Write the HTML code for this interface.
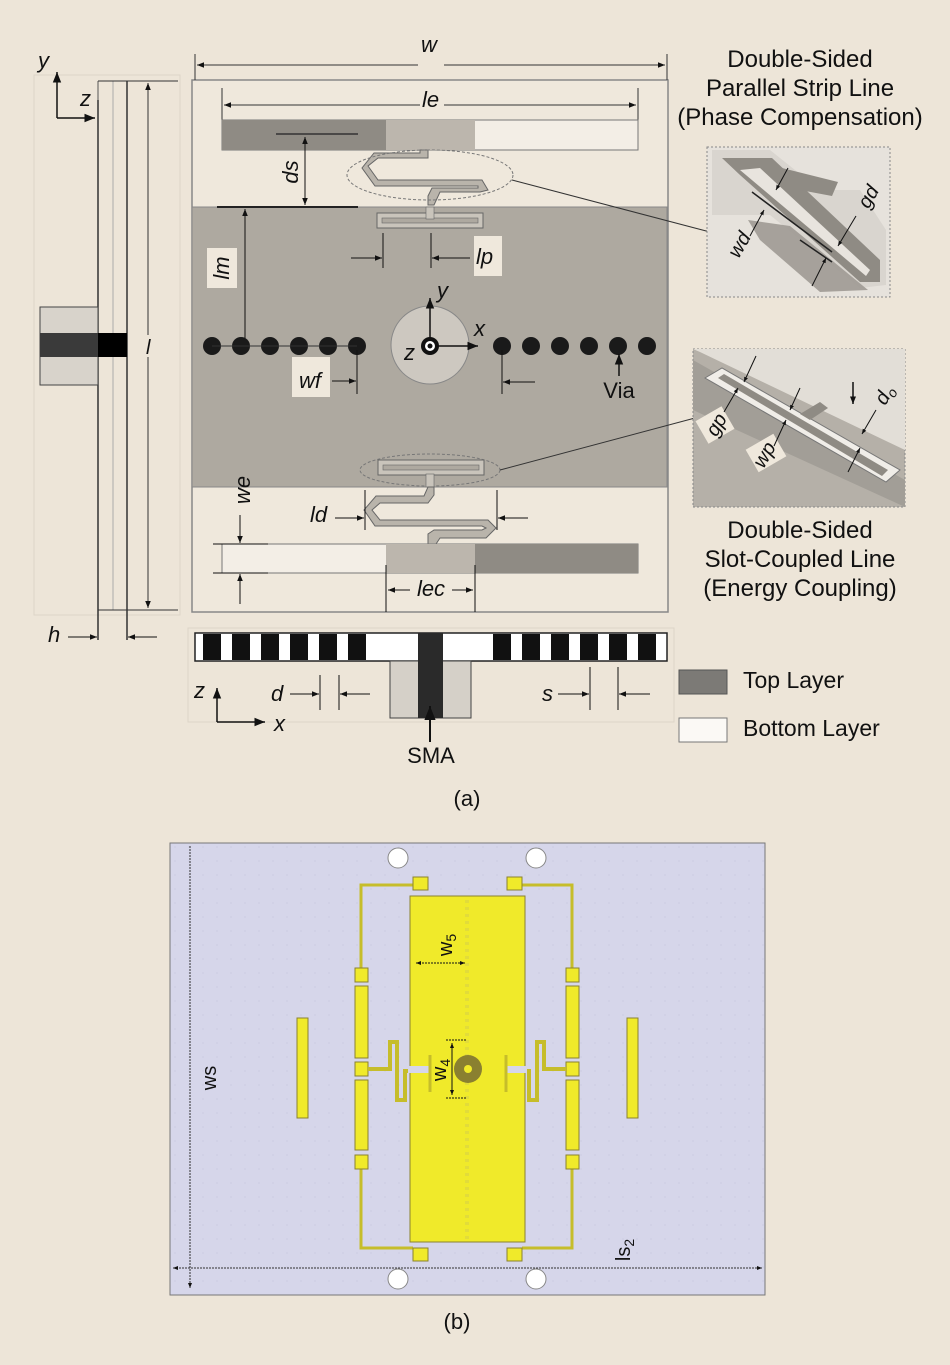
<!DOCTYPE html>
<html><head><meta charset="utf-8"><style>
html,body{margin:0;padding:0;background:#ede5d8;}
svg{display:block;}
text{font-family:"Liberation Sans",sans-serif;fill:#111;}
.it{font-style:italic;}
</style></head><body>
<svg width="950" height="1365" viewBox="0 0 950 1365" xmlns="http://www.w3.org/2000/svg">
<defs>
<marker id="a" viewBox="0 0 10 10" refX="10" refY="5" markerWidth="7" markerHeight="7" orient="auto-start-reverse"><path d="M0,1 L10,5 L0,9 z" fill="#111"/></marker>
<marker id="b" viewBox="0 0 10 10" refX="10" refY="5" markerWidth="5" markerHeight="5" orient="auto-start-reverse"><path d="M0,1 L10,5 L0,9 z" fill="#111"/></marker>
<pattern id="dots" width="14" height="14" patternUnits="userSpaceOnUse"><rect width="14" height="14" fill="#d6d6ea"/><circle cx="7" cy="7" r="0.6" fill="#c4c4dc"/></pattern>
</defs>
<rect width="950" height="1365" fill="#ede5d8"/>

<!-- ===== Side view ===== -->
<rect x="34" y="75" width="146" height="540" fill="none" stroke="#ddd5c8"/>
<line x1="98" y1="100" x2="98" y2="640" stroke="#333" stroke-width="1.5"/>
<line x1="98" y1="81" x2="98" y2="100" stroke="#555"/>
<line x1="127" y1="81" x2="127" y2="640" stroke="#333" stroke-width="1.5"/>
<line x1="113" y1="81" x2="113" y2="610" stroke="#aaa" stroke-width="1"/>
<line x1="98" y1="81" x2="178" y2="81" stroke="#333"/>
<line x1="98" y1="610" x2="178" y2="610" stroke="#333"/>
<line x1="148" y1="83" x2="148" y2="608" stroke="#333" marker-start="url(#a)" marker-end="url(#a)"/>
<rect x="140" y="335" width="18" height="22" fill="#ede5d8"/>
<text x="146" y="354" class="it" font-size="20">l</text>
<rect x="40" y="307" width="58" height="78" fill="#d8d3cb" stroke="#444"/>
<rect x="40" y="333" width="58" height="24" fill="#3a3a3a"/>
<rect x="98" y="333" width="29" height="24" fill="#000"/>
<line x1="57" y1="118" x2="57" y2="72" stroke="#111" stroke-width="1.5" marker-end="url(#a)"/>
<line x1="57" y1="118" x2="95" y2="118" stroke="#111" stroke-width="1.5" marker-end="url(#a)"/>
<text x="38" y="68" class="it" font-size="22">y</text>
<text x="80" y="106" class="it" font-size="22">z</text>
<text x="48" y="642" class="it" font-size="22">h</text>
<line x1="68" y1="637" x2="97" y2="637" stroke="#111" marker-end="url(#a)"/>
<line x1="157" y1="637" x2="128" y2="637" stroke="#111" marker-end="url(#a)"/>

<!-- ===== Top view ===== -->
<rect x="192" y="80" width="476" height="532" fill="#efe8dc" stroke="#888" stroke-width="1.5"/>
<line x1="195" y1="54" x2="195" y2="80" stroke="#333"/>
<line x1="667" y1="54" x2="667" y2="80" stroke="#333"/>
<line x1="197" y1="65" x2="665" y2="65" stroke="#333" marker-start="url(#a)" marker-end="url(#a)"/>
<rect x="418" y="48" width="26" height="22" fill="#ede5d8"/>
<text x="421" y="52" class="it" font-size="22">w</text>
<rect x="192" y="207" width="475" height="280" fill="#aea9a0" stroke="#888"/>
<line x1="222" y1="88" x2="222" y2="140" stroke="#333"/>
<line x1="638" y1="88" x2="638" y2="140" stroke="#333"/>
<line x1="224" y1="105" x2="636" y2="105" stroke="#333" marker-start="url(#a)" marker-end="url(#a)"/>
<rect x="420" y="90" width="24" height="24" fill="#efe8dc"/>
<text x="422" y="107" class="it" font-size="22">le</text>
<rect x="222" y="120" width="416" height="30" fill="#f3eee6" stroke="#777"/>
<rect x="222" y="120" width="164" height="30" fill="#8f8b84"/>
<rect x="386" y="120" width="89" height="30" fill="#bcb6ad"/>
<line x1="276" y1="134" x2="358" y2="134" stroke="#333" stroke-width="1.5"/>
<line x1="305" y1="137" x2="305" y2="205" stroke="#111" marker-start="url(#a)" marker-end="url(#a)"/>
<line x1="217" y1="207" x2="358" y2="207" stroke="#222" stroke-width="2"/>
<text transform="translate(298,172) rotate(-90)" text-anchor="middle" class="it" font-size="22">ds</text>
<path d="M420,150 L428,150 L428,158 L378,158 L368,166 L378,180 L482,180 L488,190 L480,192 L440,192 L434,205 L428,205 L428,196 L432,188 L478,188 L478,186 L375,186 L362,168 L374,153 L420,153 z" fill="#b9b4ab" stroke="#666"/>
<ellipse cx="430" cy="175" rx="83" ry="25" fill="none" stroke="#777" stroke-dasharray="3,2"/>
<line x1="512" y1="180" x2="710" y2="232" stroke="#333"/>
<rect x="377" y="213" width="106" height="15" fill="#c9c4bb" stroke="#666"/>
<rect x="382" y="218" width="96" height="5" fill="#aea9a0" stroke="#666" stroke-width="0.6"/>
<rect x="426" y="207" width="8" height="12" fill="#c9c4bb" stroke="#666" stroke-width="0.6"/>
<line x1="383" y1="233" x2="383" y2="268" stroke="#111"/>
<line x1="431" y1="233" x2="431" y2="268" stroke="#111"/>
<line x1="351" y1="258" x2="382" y2="258" stroke="#111" marker-end="url(#a)"/>
<line x1="470" y1="258" x2="432" y2="258" stroke="#111" marker-end="url(#a)"/>
<rect x="474" y="236" width="28" height="40" fill="#efe8dc"/>
<text x="476" y="264" class="it" font-size="22">lp</text>
<line x1="245" y1="344" x2="245" y2="209" stroke="#111" marker-end="url(#a)"/>
<rect x="207" y="248" width="30" height="40" fill="#efe8dc"/>
<text transform="translate(229,268) rotate(-90)" text-anchor="middle" class="it" font-size="22">lm</text>
<g fill="#1a1a1a">
<circle cx="212" cy="346" r="9"/><circle cx="241" cy="346" r="9"/><circle cx="270" cy="346" r="9"/><circle cx="299" cy="346" r="9"/><circle cx="328" cy="346" r="9"/><circle cx="357" cy="346" r="9"/>
<circle cx="502" cy="346" r="9"/><circle cx="531" cy="346" r="9"/><circle cx="560" cy="346" r="9"/><circle cx="589" cy="346" r="9"/><circle cx="618" cy="346" r="9"/><circle cx="647" cy="346" r="9"/>
</g>
<line x1="212" y1="346" x2="357" y2="346" stroke="#333"/>
<circle cx="430" cy="345" r="39" fill="#cdc8c0" stroke="#888"/>
<circle cx="430" cy="346" r="9" fill="#111"/><circle cx="430" cy="346" r="5" fill="#fff"/><circle cx="430" cy="346" r="2.5" fill="#111"/>
<line x1="430" y1="340" x2="430" y2="298" stroke="#111" stroke-width="1.5" marker-end="url(#a)"/>
<line x1="436" y1="346" x2="478" y2="346" stroke="#111" stroke-width="1.5" marker-end="url(#a)"/>
<text x="437" y="298" class="it" font-size="22">y</text>
<text x="474" y="336" class="it" font-size="22">x</text>
<text x="404" y="360" class="it" font-size="22">z</text>
<rect x="292" y="357" width="38" height="40" fill="#efe8dc"/>
<text x="299" y="388" class="it" font-size="22">wf</text>
<line x1="357" y1="350" x2="357" y2="394" stroke="#111"/>
<line x1="332" y1="381" x2="356" y2="381" stroke="#111" marker-end="url(#a)"/>
<line x1="502" y1="350" x2="502" y2="394" stroke="#111"/>
<line x1="535" y1="382" x2="503" y2="382" stroke="#111" marker-end="url(#a)"/>
<line x1="619" y1="376" x2="619" y2="354" stroke="#111" stroke-width="1.5" marker-end="url(#a)"/>
<text x="619" y="398" text-anchor="middle" font-size="22">Via</text>
<ellipse cx="430" cy="470" rx="70" ry="16" fill="none" stroke="#777" stroke-dasharray="3,2"/>
<rect x="378" y="460" width="106" height="15" fill="#c9c4bb" stroke="#666"/>
<rect x="383" y="465" width="96" height="5" fill="#aea9a0" stroke="#666" stroke-width="0.6"/>
<rect x="426" y="474" width="8" height="13" fill="#c9c4bb" stroke="#666" stroke-width="0.6"/>
<line x1="500" y1="470" x2="695" y2="418" stroke="#333"/>
<path d="M428,487 L434,487 L434,495 L428,503 L380,503 L372,510 L380,520 L488,520 L496,528 L486,538 L440,538 L436,544 L428,544 L428,534 L434,530 L482,530 L486,528 L482,526 L375,526 L364,510 L376,496 L424,496 z" fill="#b9b4ab" stroke="#666"/>
<line x1="365" y1="490" x2="365" y2="530" stroke="#111"/>
<line x1="497" y1="490" x2="497" y2="530" stroke="#111"/>
<line x1="335" y1="518" x2="364" y2="518" stroke="#111" marker-end="url(#a)"/>
<line x1="528" y1="518" x2="498" y2="518" stroke="#111" marker-end="url(#a)"/>
<text x="310" y="522" class="it" font-size="22">ld</text>
<rect x="222" y="544" width="416" height="29" fill="#f3eee6" stroke="#777"/>
<rect x="386" y="544" width="89" height="29" fill="#bcb6ad"/>
<rect x="475" y="544" width="163" height="29" fill="#8f8b84"/>
<line x1="213" y1="544" x2="268" y2="544" stroke="#111"/>
<line x1="213" y1="573" x2="268" y2="573" stroke="#111"/>
<line x1="240" y1="515" x2="240" y2="543" stroke="#111" marker-end="url(#a)"/>
<line x1="240" y1="604" x2="240" y2="574" stroke="#111" marker-end="url(#a)"/>
<text transform="translate(250,490) rotate(-90)" text-anchor="middle" class="it" font-size="22">we</text>
<line x1="386" y1="565" x2="386" y2="612" stroke="#111"/>
<line x1="475" y1="565" x2="475" y2="612" stroke="#111"/>
<line x1="410" y1="590" x2="388" y2="590" stroke="#111" marker-end="url(#a)"/>
<line x1="452" y1="590" x2="473" y2="590" stroke="#111" marker-end="url(#a)"/>
<text x="431" y="596" text-anchor="middle" class="it" font-size="22">lec</text>

<!-- ===== Bottom side view ===== -->
<rect x="188" y="628" width="486" height="94" fill="none" stroke="#ddd5c8"/>
<rect x="195" y="633" width="472" height="28" fill="#fff" stroke="#222" stroke-width="1.5"/>
<g fill="#111">
<rect x="203" y="634" width="18" height="26"/><rect x="232" y="634" width="18" height="26"/><rect x="261" y="634" width="18" height="26"/><rect x="290" y="634" width="18" height="26"/><rect x="319" y="634" width="18" height="26"/><rect x="348" y="634" width="18" height="26"/>
<rect x="493" y="634" width="18" height="26"/><rect x="522" y="634" width="18" height="26"/><rect x="551" y="634" width="18" height="26"/><rect x="580" y="634" width="18" height="26"/><rect x="609" y="634" width="18" height="26"/><rect x="638" y="634" width="18" height="26"/>
</g>
<rect x="390" y="661" width="81" height="57" fill="#d5d0c8" stroke="#444"/>
<rect x="418" y="633" width="25" height="85" fill="#2a2a2a"/>
<line x1="430" y1="742" x2="430" y2="706" stroke="#111" stroke-width="2" marker-end="url(#a)"/>
<text x="431" y="763" text-anchor="middle" font-size="22">SMA</text>
<line x1="217" y1="722" x2="217" y2="688" stroke="#111" stroke-width="1.5" marker-end="url(#a)"/>
<line x1="217" y1="722" x2="265" y2="722" stroke="#111" stroke-width="1.5" marker-end="url(#a)"/>
<text x="194" y="698" class="it" font-size="22">z</text>
<text x="274" y="731" class="it" font-size="22">x</text>
<line x1="320" y1="675" x2="320" y2="710" stroke="#111"/>
<line x1="339" y1="675" x2="339" y2="710" stroke="#111"/>
<line x1="290" y1="694" x2="319" y2="694" stroke="#111" marker-end="url(#a)"/>
<line x1="370" y1="694" x2="340" y2="694" stroke="#111" marker-end="url(#a)"/>
<text x="271" y="701" class="it" font-size="22">d</text>
<line x1="590" y1="667" x2="590" y2="710" stroke="#111"/>
<line x1="618" y1="667" x2="618" y2="710" stroke="#111"/>
<line x1="558" y1="694" x2="589" y2="694" stroke="#111" marker-end="url(#a)"/>
<line x1="650" y1="694" x2="619" y2="694" stroke="#111" marker-end="url(#a)"/>
<text x="542" y="701" class="it" font-size="22">s</text>

<!-- legend -->
<rect x="679" y="670" width="48" height="24" fill="#7c7a76" stroke="#555"/>
<rect x="679" y="718" width="48" height="24" fill="#fbf9f5" stroke="#777"/>
<text x="743" y="688" font-size="23">Top Layer</text>
<text x="743" y="736" font-size="23">Bottom Layer</text>

<!-- insets -->
<g font-size="24" text-anchor="middle">
<text x="800" y="67">Double-Sided</text>
<text x="800" y="96">Parallel Strip Line</text>
<text x="800" y="125">(Phase Compensation)</text>
<text x="800" y="538">Double-Sided</text>
<text x="800" y="567">Slot-Coupled Line</text>
<text x="800" y="596">(Energy Coupling)</text>
</g>
<rect x="707" y="147" width="183" height="150" fill="#e6e2dc" stroke="#888" stroke-dasharray="2,2"/>
<g>
<path d="M712,150 L770,150 L820,190 L860,190 L886,230 L886,285 L860,288 L770,215 L712,215 z" fill="#d9d5cf"/>
<path d="M722,158 L772,158 L880,260 L880,282 L860,282 L740,175 z" fill="#8f8b84"/>
<path d="M740,170 L760,168 L870,270 L866,276 z" fill="#e8e4de"/>
<path d="M748,220 L790,226 L868,290 L820,292 L760,240 z" fill="#9e9a93" opacity="0.9"/>
<path d="M782,168 L838,182 L832,196 L800,190 z" fill="#8f8b84"/>
<line x1="752" y1="192" x2="832" y2="252" stroke="#222" stroke-width="1.5"/>
<line x1="800" y1="240" x2="832" y2="262" stroke="#222" stroke-width="1.5"/>
</g>
<line x1="788" y1="168" x2="776" y2="190" stroke="#111" marker-end="url(#b)"/>
<line x1="750" y1="236" x2="764" y2="210" stroke="#111" marker-end="url(#b)"/>
<line x1="856" y1="216" x2="838" y2="246" stroke="#111" marker-end="url(#b)"/>
<line x1="812" y1="286" x2="826" y2="258" stroke="#111" marker-end="url(#b)"/>
<text transform="translate(745,248) rotate(-60)" text-anchor="middle" class="it" font-size="20">wd</text>
<text transform="translate(874,200) rotate(-60)" text-anchor="middle" class="it" font-size="20">gd</text>

<rect x="693" y="349" width="212" height="158" fill="#b5b0a8" stroke="#888" stroke-dasharray="2,2"/>
<path d="M693,349 L905,349 L905,450 L700,352 z" fill="#e2ded7"/>
<path d="M693,360 L905,480 L905,507 L693,410 z" fill="#a29e97"/>
<path d="M705,378 L722,368 L900,470 L886,482 z" fill="#f0ede8" stroke="#777"/>
<path d="M718,378 L724,374 L888,470 L882,476 z" fill="#8f8b84"/>
<path d="M800,414 L820,402 L828,408 L810,420 z" fill="#8f8b84"/>
<rect x="700" y="412" width="30" height="26" fill="#efe8dc" transform="rotate(-30 715 425)"/>
<rect x="750" y="440" width="32" height="26" fill="#efe8dc" transform="rotate(-30 766 453)"/>
<line x1="756" y1="356" x2="744" y2="382" stroke="#111" marker-end="url(#b)"/>
<line x1="724" y1="412" x2="738" y2="388" stroke="#111" marker-end="url(#b)"/>
<line x1="800" y1="388" x2="790" y2="410" stroke="#111" marker-end="url(#b)"/>
<line x1="774" y1="446" x2="786" y2="420" stroke="#111" marker-end="url(#b)"/>
<line x1="853" y1="382" x2="853" y2="404" stroke="#111" stroke-width="1.5" marker-end="url(#b)"/>
<line x1="876" y1="410" x2="862" y2="434" stroke="#111" marker-end="url(#b)"/>
<line x1="848" y1="472" x2="860" y2="448" stroke="#111" marker-end="url(#b)"/>
<text transform="translate(722,428) rotate(-60)" text-anchor="middle" class="it" font-size="20">gp</text>
<text transform="translate(770,458) rotate(-60)" text-anchor="middle" class="it" font-size="20">wp</text>
<text transform="translate(890,398) rotate(-60)" text-anchor="middle" class="it" font-size="20">d<tspan font-size="14" dy="4">o</tspan></text>

<text x="467" y="806" text-anchor="middle" font-size="22">(a)</text>

<!-- ===== Part (b) ===== -->
<rect x="170" y="843" width="595" height="452" fill="url(#dots)" stroke="#777"/>
<g fill="#fff" stroke="#888">
<circle cx="398" cy="858" r="10"/><circle cx="536" cy="858" r="10"/><circle cx="398" cy="1279" r="10"/><circle cx="536" cy="1279" r="10"/>
</g>
<g stroke="#8a8230" stroke-width="1" fill="#f0ea2a">
<path d="M413,885 L361,885 L361,968 M361,1168 L361,1248 L413,1248 M522,885 L572,885 L572,968 M572,1168 L572,1248 L522,1248" fill="none" stroke="#c6bd2a" stroke-width="3"/>
<rect x="410" y="896" width="115" height="346"/>
<rect x="413" y="877" width="15" height="13"/><rect x="507" y="877" width="15" height="13"/>
<rect x="413" y="1248" width="15" height="13"/><rect x="507" y="1248" width="15" height="13"/>
<rect x="355" y="968" width="13" height="14"/><rect x="355" y="986" width="13" height="72"/><rect x="355" y="1062" width="13" height="14"/><rect x="355" y="1080" width="13" height="70"/><rect x="355" y="1155" width="13" height="14"/>
<rect x="566" y="968" width="13" height="14"/><rect x="566" y="986" width="13" height="72"/><rect x="566" y="1062" width="13" height="14"/><rect x="566" y="1080" width="13" height="70"/><rect x="566" y="1155" width="13" height="14"/>
<rect x="297" y="1018" width="11" height="100"/><rect x="627" y="1018" width="11" height="100"/>
</g>
<path d="M368,1069 L390,1069 L390,1042 L397,1042 L397,1100 L405,1100 L405,1071 L430,1071" fill="none" stroke="#c6bd2a" stroke-width="4"/>
<path d="M566,1069 L544,1069 L544,1042 L537,1042 L537,1100 L529,1100 L529,1071 L505,1071" fill="none" stroke="#c6bd2a" stroke-width="4"/>
<rect x="408" y="1066" width="22" height="7" fill="#d6d6ea"/>
<rect x="505" y="1066" width="22" height="7" fill="#d6d6ea"/>
<line x1="430" y1="1055" x2="430" y2="1092" stroke="#c6bd2a" stroke-width="3"/>
<line x1="506" y1="1055" x2="506" y2="1092" stroke="#c6bd2a" stroke-width="3"/>
<line x1="467" y1="900" x2="467" y2="1240" stroke="#e2dc3a" stroke-width="4" stroke-dasharray="3,4"/>
<circle cx="468" cy="1069" r="14" fill="#8a8030"/><circle cx="468" cy="1069" r="4" fill="#f0ea2a"/>
<line x1="416" y1="963" x2="465" y2="963" stroke="#111" stroke-dasharray="2,1" marker-start="url(#b)" marker-end="url(#b)"/>
<text transform="translate(452,945) rotate(-90)" text-anchor="middle" font-size="20">w<tspan font-size="14" dy="4">5</tspan></text>
<line x1="446" y1="1040" x2="466" y2="1040" stroke="#111" stroke-dasharray="2,1"/>
<line x1="446" y1="1098" x2="466" y2="1098" stroke="#111" stroke-dasharray="2,1"/>
<line x1="452" y1="1043" x2="452" y2="1095" stroke="#111" marker-start="url(#b)" marker-end="url(#b)"/>
<text transform="translate(446,1070) rotate(-90)" text-anchor="middle" font-size="20">w<tspan font-size="14" dy="4">4</tspan></text>
<line x1="190" y1="846" x2="190" y2="1288" stroke="#333" stroke-dasharray="2,1" marker-end="url(#b)"/>
<line x1="173" y1="1268" x2="762" y2="1268" stroke="#333" stroke-dasharray="2,1" marker-start="url(#b)" marker-end="url(#b)"/>
<text transform="translate(216,1078) rotate(-90)" text-anchor="middle" font-size="20">ws</text>
<text transform="translate(630,1250) rotate(-90)" text-anchor="middle" font-size="20">ls<tspan font-size="14" dy="4">2</tspan></text>

<text x="457" y="1329" text-anchor="middle" font-size="22">(b)</text>
</svg>
</body></html>
